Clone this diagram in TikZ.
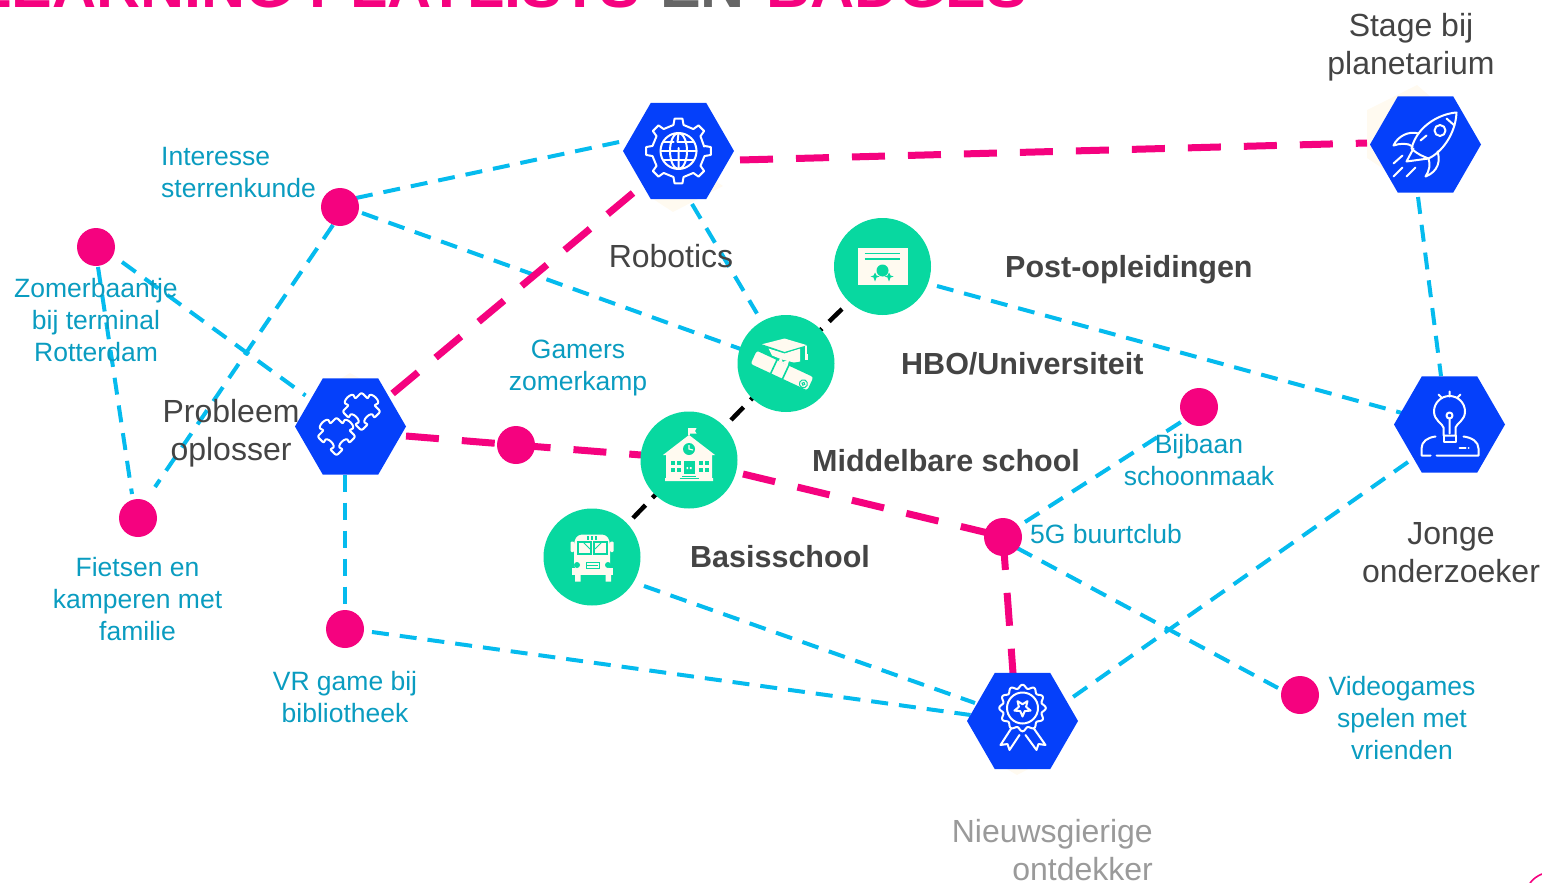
\documentclass[tikz,border=0pt]{standalone}
\usepackage{fontspec}
\setmainfont{Liberation Sans}
\usetikzlibrary{shapes.geometric,calc}
\pgfdeclarelayer{back}
\pgfsetlayers{back,main}
\definecolor{hexblue}{HTML}{0540FA}
\definecolor{mint}{HTML}{08D8A0}
\definecolor{hotpink}{HTML}{F5027F}
\definecolor{skyline}{HTML}{05BBEE}
\definecolor{tealtext}{HTML}{0A9CC0}
\definecolor{darktext}{HTML}{444444}
\definecolor{graytext}{HTML}{9A9A9A}
\definecolor{cream}{HTML}{FFFAF0}
\tikzset{
  hexnode/.style={regular polygon,regular polygon sides=6,minimum size=111pt,inner sep=0pt,outer sep=0pt,fill=hexblue,draw=none},
  levelnode/.style={circle,minimum size=97pt,inner sep=0pt,outer sep=0pt,fill=mint,draw=none},
  dotnode/.style={circle,minimum size=38pt,inner sep=0pt,outer sep=0pt,fill=hotpink,draw=none},
  cyanlink/.style={draw=skyline,line width=4pt,dash pattern=on 17pt off 11pt},
  pinklink/.style={draw=hotpink,line width=7pt,dash pattern=on 33pt off 23pt},
  blacklink/.style={draw=black,line width=4.5pt,dash pattern=on 18pt off 10pt},
  smalllabel/.style={text=tealtext,align=center,inner sep=0pt,font=\fontsize{26.5}{32}\selectfont},
  biglabel/.style={text=darktext,align=center,inner sep=0pt,font=\fontsize{32}{38}\selectfont},
  boldlabel/.style={text=darktext,inner sep=0pt,anchor=base west,font=\fontsize{30.5}{36}\selectfont\bfseries},
  titletext/.style={inner sep=0pt,font=\fontsize{61}{61}\selectfont\bfseries},
  iconline/.style={draw=white,line width=2pt,line join=round,line cap=round,fill=none},
  creamfill/.style={fill=cream,draw=none},
  mintfill/.style={fill=mint,draw=none},
  mintline/.style={draw=mint,line width=1.6pt}
}
\newcommand{\jigsawpiece}{%
  (-13.5,-13.5) -- (-4,-13.5) .. controls (-10,-21.5) and (10,-21.5) .. (4,-13.5) -- (13.5,-13.5) -- (13.5,-4)
  .. controls (21.5,-10) and (21.5,10) .. (13.5,4) -- (13.5,13.5) -- (4,13.5)
  .. controls (9,6) and (-9,6) .. (-4,13.5) -- (-13.5,13.5) -- (-13.5,4)
  .. controls (-6,9) and (-6,-9) .. (-13.5,-4) -- cycle}
\begin{document}
\begin{tikzpicture}[x=1pt,y=-1pt]
\useasboundingbox (0,0) rectangle (1542,883);
\clip (0,0) rectangle (1542,883);

% title (cut by the top edge)
\node[titletext,text=hotpink,anchor=base east] (title1) at (640,8) {LEARNING PLAYLISTS};
\node[titletext,text=black!60,anchor=base west] (title2) at (660,8) {EN};
\node[titletext,text=hotpink,anchor=base west] (title3) at (766,8) {BADGES};

% nodes
\node[hexnode] (rob) at (678.5,151) {};
\node[hexnode] (rock) at (1425.5,144.5) {};
\node[hexnode] (puz) at (350.5,426.5) {};
\node[hexnode] (bulb) at (1449.5,424.5) {};
\node[hexnode] (med) at (1022.5,721) {};
\node[levelnode] (post) at (882.5,266.5) {};
\node[levelnode] (hbo) at (786,363.5) {};
\node[levelnode] (sch) at (689,460) {};
\node[levelnode] (bus) at (592,557) {};
\node[dotnode] (d1) at (340,207) {};
\node[dotnode] (d2) at (96,247) {};
\node[dotnode] (d3) at (138,518) {};
\node[dotnode] (d4) at (516,445) {};
\node[dotnode] (d5) at (345,629) {};
\node[dotnode] (d6) at (1199,407) {};
\node[dotnode] (d7) at (1003,537) {};
\node[dotnode] (d8) at (1300,695) {};

\begin{pgfonlayer}{back}
% pale shapes peeking out from behind the hexagons
\fill[cream] (1417,85) -- (1367,110) -- (1367,158) -- (1385,170) -- (1440,105) -- cycle;
\fill[cream] (647,195) -- (673,212) -- (723,186) -- (700,170) -- cycle;
\fill[cream] (330,385) -- (350,373) -- (372,385) -- cycle;
\fill[cream] (1000,765) -- (1017,775) -- (1036,765) -- cycle;
% cyan
\draw[cyanlink] ([shift={(16,-9)}]d1.center) -- ([shift={(-50,-11)}]rob.center);
\draw[cyanlink] ([shift={(22,6)}]d1.center) -- ([shift={(-44,-14)}]hbo.center);
\draw[cyanlink] ([shift={(-7,18)}]d1.center) -- ([shift={(17,-31)}]d3.center);
\draw[cyanlink] ([shift={(26,15)}]d2.center) -- ([shift={(-45,-31)}]puz.center);
\draw[cyanlink] ([shift={(2,20)}]d2.center) -- ([shift={(-6,-24)}]d3.center);
\draw[cyanlink] ([shift={(-5.5,48)}]puz.center) -- ([shift={(0,-19)}]d5.center);
\draw[cyanlink] ([shift={(27,3)}]d5.center) -- ([shift={(-52,-6)}]med.center);
\draw[cyanlink] ([shift={(13.5,53)}]rob.center) -- ([shift={(-29,-50)}]hbo.center);
\draw[cyanlink] ([shift={(54.5,19.5)}]post.center) -- ([shift={(-47.5,-11.5)}]bulb.center);
\draw[cyanlink] ([shift={(-7.5,52.5)}]rock.center) -- ([shift={(-8.5,-48.5)}]bulb.center);
\draw[cyanlink] ([shift={(-41.5,37.5)}]bulb.center) -- ([shift={(50.5,-24)}]med.center);
\draw[cyanlink] ([shift={(52,29)}]bus.center) -- ([shift={(-47.5,-18)}]med.center);
\draw[cyanlink] ([shift={(22,-15)}]d7.center) -- ([shift={(-18,15)}]d6.center);
\draw[cyanlink] ([shift={(14,11)}]d7.center) -- ([shift={(-22,-7)}]d8.center);
% pink
\draw[pinklink] ([shift={(61.5,9)}]rob.center) -- ([shift={(-58.5,-1.5)}]rock.center);
\draw[pinklink] ([shift={(-45.5,42)}]rob.center) -- ([shift={(41.5,-32.5)}]puz.center);
\draw[pinklink] ([shift={(55.5,9.5)}]puz.center) -- (d4.center) -- ([shift={(-48,-5)}]sch.center);
\draw[pinklink] ([shift={(54,14)}]sch.center) -- ([shift={(-15,-4)}]d7.center);
\draw[pinklink] (d7.center) -- ([shift={(-9.5,-48)}]med.center);
% black
\draw[blacklink] ([shift={(-40.5,42.5)}]post.center) -- (hbo.center);
\draw[blacklink] ([shift={(42,-40)}]sch.center) -- (hbo.center);
\draw[blacklink] ([shift={(41,-39)}]bus.center) -- (sch.center);
\end{pgfonlayer}

% globe-gear icon
\begin{scope}[shift={(rob.center)}]
\draw[iconline] (-10:26)
  \foreach \a in {0,45,...,315} { -- ({\a-11}:26.5) -- ({\a-7}:32.5) -- ({\a+7}:32.5) -- ({\a+11}:26.5) } -- cycle;
\draw[iconline] (0,0) circle[radius=18];
\draw[iconline] (0,0) circle[x radius=8.5,y radius=18];
\draw[iconline] (0,-18) -- (-1,-9) (0,-3) -- (0,18);
\draw[iconline] (-18,0) -- (18,0) (-15,-9) -- (-5,-9) (-1,-9) -- (15,-9) (-15,9) -- (15,9);
\end{scope}

% rocket icon
\begin{scope}[shift={(rock.center)}]
\draw[iconline] (31,-32) .. controls (16,-31) and (-8,-20) .. (-14,4) .. controls (-8,10) and (-2,12) .. (3,14) .. controls (16,8) and (30,-10) .. cycle;
\draw[iconline] (-7,-11) .. controls (-17,-14) and (-28,-8) .. (-32,1) .. controls (-26,-1) and (-18,-2) .. (-13,2);
\draw[iconline] (12,7) .. controls (15,16) and (13,27) .. (0,32) .. controls (4,26) and (5,20) .. (3,14);
\draw[iconline] (-12,4) -- (-19,17) -- (3,14);
\draw[iconline] (14.5,-14) circle[radius=5.5];
\draw[iconline] (21,-26) -- (29,-19);
\draw[iconline] (-32,19) -- (-23,11) (-32,32) -- (-23,23) (-19,32) -- (-10,23) (-5,-4) -- (1,-9);
\end{scope}

% puzzle icon
\begin{scope}[shift={(puz.center)}]
\draw[iconline,rotate around={45:(11,-15)},shift={(11,-15)},rounded corners=2pt] \jigsawpiece;
\draw[iconline,rotate around={45:(-14,10)},shift={(-14,10)},rounded corners=2pt] \jigsawpiece;
\end{scope}

% bulb icon
\begin{scope}[shift={(bulb.center)}]
\draw[iconline] (-6,11) -- (-6,3) .. controls (-7,-1) and (-15.5,-4) .. (-15.5,-13) arc[start angle=180,end angle=360,radius=15.5] .. controls (15.5,-4) and (7,-1) .. (6,3) -- (6,11) -- cycle;
\draw[iconline] (-6,11) -- (-6,17) -- (6,17) -- (6,11);
\draw[iconline] (-11,-30) -- (-8,-27) (0,-33) -- (0,-28) (11,-30) -- (8,-27);
\draw[iconline] (0,-9) circle[radius=3] (0,-6) -- (0,9);
\draw[iconline] (-14,12) .. controls (-22,13) and (-28,17) .. (-28,24) -- (-28,31) -- (-19,31) (-13,31) -- (29,31) -- (29,24) .. controls (29,17) and (22,13) .. (14,12);
\draw[iconline] (10,23) -- (16,23) (19,23) -- (19.2,23);
\end{scope}

% medal icon
\begin{scope}[shift={(med.center)}]
\begin{scope}[shift={(0,-13)}]
\draw[iconline,smooth] plot[domain=0:360,samples=121] ({\x}:{21.5+1.8*cos(12*\x)}) -- cycle;
\draw[iconline] (0,0) circle[radius=15.5];
\draw[iconline] (90:8.5) -- (126:3.8) -- (162:8.5) -- (198:3.8) -- (234:8.5) -- (270:3.8) -- (306:8.5) -- (342:3.8) -- (18:8.5) -- (54:3.8) -- cycle;
\end{scope}
\draw[iconline] (-11,7) -- (-22,24) -- (-15,23) -- (-13,29) -- (-3,14);
\draw[iconline] (11,7) -- (23,24) -- (16,23) -- (14,29) -- (3,14);
\end{scope}

% certificate icon
\begin{scope}[shift={(post.center)}]
\fill[creamfill] (-25,-19) rectangle (25,18);
\draw[mintline] (-18,-13) -- (17,-13) (-18,-7.5) -- (17,-7.5);
\fill[mintfill] (0,4) circle[radius=6];
\fill[mintfill] (-7.5,6) -- (-6,9) -- (-3,10) -- (-6,11) -- (-7.5,15) -- (-9,11) -- (-12,10) -- (-9,9) -- cycle;
\fill[mintfill] (6.5,6) -- (8,9) -- (11,10) -- (8,11) -- (6.5,15) -- (5,11) -- (2,10) -- (5,9) -- cycle;
\end{scope}

% graduation icon
\begin{scope}[shift={(hbo.center)}]
\fill[creamfill] (-17.5,-15) -- (-1.5,-10) -- (14,-15) -- (14,-2) -- (8,-1) -- (-4,-4) -- (-14,-8) -- cycle;
\fill[creamfill] (-1.5,-25) -- (-25,-19) -- (-1.5,-11) -- (22,-18) -- cycle;
\draw[mint,line width=1pt] (-25,-19) -- (-1.5,-11) -- (22,-18);
\draw[cream,line width=1.2pt] (20,-18) -- (20,-9);
\fill[creamfill] (18.5,-10) rectangle (22,-4);
\begin{scope}[shift={(-4,7)},rotate=-25]
\fill[cream,draw=mint,line width=1.4pt,rounded corners=3pt] (-32,-8) rectangle (32,8);
\draw[mintline] (-9,-8) -- (-9,8) (4,-8) -- (4,8);
\fill[creamfill] (-7,-12) -- (-3,-8) -- (2,-13) -- (3,-7) -- (-7,-7) -- cycle;
\draw[mint,line width=1pt] (25,3) circle[radius=4] (25,3) circle[radius=1.5];
\end{scope}
\end{scope}

% school icon
\begin{scope}[shift={(sch.center)}]
\fill[creamfill] (-26,-5) -- (0,-25) -- (26,-5) -- (23,-5) -- (23,18) -- (24,18) -- (24,21) -- (-24,21) -- (-24,18) -- (-23,18) -- (-23,-5) -- cycle;
\draw[cream,line width=1.2pt] (0,-32) -- (0,-25);
\fill[creamfill] (0,-32) -- (7.5,-32) -- (6,-29) -- (7.5,-26.5) -- (0,-26.5) -- cycle;
\fill[mintfill] (0,-11) circle[radius=6];
\draw[cream,line width=1.1pt] (0,-15) -- (0,-11) -- (4,-10);
\fill[mintfill] (-5.5,1) rectangle (5.5,14);
\fill[creamfill] (-2.5,7) rectangle (-0.8,9) (0.8,7) rectangle (2.5,9);
\foreach \wx in {-18,-12.5,10,15.5} \foreach \wy in {1,7.5} {
  \fill[mintfill] (\wx,\wy) rectangle ++(4.3,4.3);
}
\draw[mint,line width=0.8pt] (-7,16) -- (7,16) (-9.5,18.5) -- (9.5,18.5);
\end{scope}

% bus icon
\begin{scope}[shift={(bus.center)}]
\fill[creamfill,rounded corners=4pt] (-14,-22.5) -- (14,-22.5) -- (18,-16) -- (18,12) -- (-18,12) -- (-18,-16) -- cycle;
\fill[creamfill] (-20,11) rectangle (21,18);
\fill[creamfill] (-17,18) rectangle (-11.5,24.5) (13.5,18) rectangle (19,24.5);
\fill[creamfill,rounded corners=1pt] (-21.5,-15.5) rectangle (-18,-5) (18,-15.5) rectangle (21.5,-5);
\foreach \lx in {-5,-1,3} {\fill[mintfill] (\lx,-21) rectangle ++(2.2,4);}
\draw[mintline] (-14,-15) -- (-1,-15) -- (-1,-3) -- (-14,-3) -- cycle (2,-15) -- (15,-15) -- (15,-3) -- (2,-3) -- cycle;
\draw[mint,line width=0.8pt] (-9,-15) -- (-2,-8) (10,-15) -- (3,-8);
\fill[mintfill] (-15,8) circle[radius=3] (16,8) circle[radius=3];
\draw[mint,line width=0.8pt] (-6,5) rectangle (7,11) (-5,8) -- (6,8);
\end{scope}

% labels
\node[smalllabel,align=left,anchor=west] (l1) at (161,173) {Interesse\\sterrenkunde};
\node[smalllabel] (l2) at (96,320) {Zomerbaantje\\bij terminal\\Rotterdam};
\node[smalllabel] (l3) at (137.5,599) {Fietsen en\\kamperen met\\familie};
\node[smalllabel] (l4) at (345,697) {VR game bij\\bibliotheek};
\node[smalllabel] (l5) at (578,368) {Gamers\\zomerkamp};
\node[smalllabel] (l6) at (1199,460) {Bijbaan\\schoonmaak};
\node[smalllabel,anchor=west] (l7) at (1030,534) {5G buurtclub};
\node[smalllabel] (l8) at (1402,718) {Videogames\\spelen met\\vrienden};
\node[biglabel] (b1) at (671,256) {Robotics};
\node[biglabel] (b2) at (231,433) {Probleem\\oplosser};
\node[biglabel] (b3) at (1411,47) {Stage bij\\planetarium};
\node[biglabel] (b4) at (1451,552.5) {Jonge\\onderzoeker};
\node[biglabel,text=graytext,align=right,anchor=east] (b5) at (1153,850) {Nieuwsgierige\\ontdekker};
\node[boldlabel] (h1) at (1005,277) {Post-opleidingen};
\node[boldlabel] (h2) at (901,374) {HBO/Universiteit};
\node[boldlabel] (h3) at (812,471) {Middelbare school};
\node[boldlabel] (h4) at (690,567) {Basisschool};

\draw[hotpink,line width=1.6pt] (1530,883) .. controls (1533,879) and (1537,876) .. (1542,874);
\end{tikzpicture}
\end{document}
